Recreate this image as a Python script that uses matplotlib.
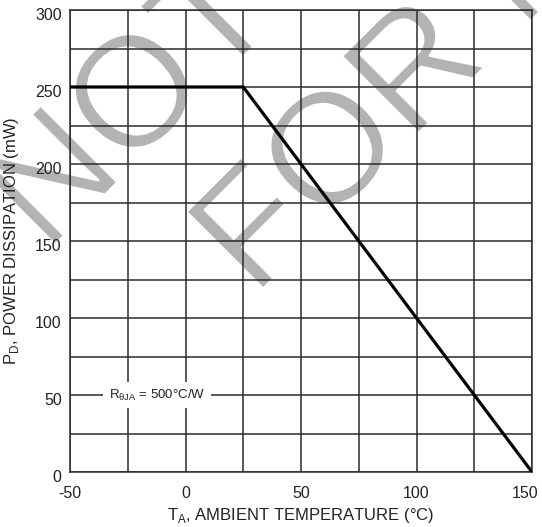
import matplotlib
matplotlib.use("Agg")
import matplotlib.pyplot as plt
import matplotlib.patheffects as pe
from matplotlib.transforms import ScaledTranslation

plt.rcParams["font.family"] = ["Liberation Sans", "DejaVu Sans"]
plt.rcParams["mathtext.fontset"] = "custom"
plt.rcParams["mathtext.rm"] = "Liberation Sans"
plt.rcParams["axes.unicode_minus"] = False

# derating curve
temp_pts = [-50, 25, 150]
power_pts = [250, 250, 0]

x_ticks = [-50, 0, 50, 100, 150]
y_ticks = [0, 50, 100, 150, 200, 250, 300]
x_grid = [-50, -25, 0, 25, 50, 75, 100, 125, 150]
y_grid = [0, 25, 50, 75, 100, 125, 150, 175, 200, 225, 250, 275, 300]

fig = plt.figure(figsize=(5.42, 5.27), dpi=100)
ax = fig.add_axes([70 / 542, 55 / 527, 462 / 542, 462 / 527])
ax.set_zorder(1)
ax.set_facecolor("none")

# watermark behind the grid, slightly thinned with a white outline
thin = [pe.Normal(), pe.Stroke(linewidth=2, foreground="white")]
wm = dict(color="#b3b3b3", fontsize=114, rotation=45, rotation_mode="anchor",
          ha="left", va="baseline", zorder=-5, path_effects=thin)
fig.text(46 / 542, 1 - 254 / 527, "NOT", **wm)
fig.text(254 / 542, 1 - 298 / 527, "FOR NEW DESIGN", **wm)

ax.plot(temp_pts, power_pts, color="black", lw=2.3, zorder=3, solid_capstyle="butt")

ax.set_xlim(-50, 150)
ax.set_ylim(0, 300)
ax.set_xticks(x_ticks)
ax.set_yticks(y_ticks)
ax.set_xticks(x_grid, minor=True)
ax.set_yticks(y_grid, minor=True)
ax.grid(which="both", color="#2b2b2b", lw=1.1, zorder=1)
ax.tick_params(which="both", length=0, labelsize=11.5, colors="#222222")
ax.tick_params(axis="x", pad=10)
ax.tick_params(axis="y", pad=6)
for s in ax.spines.values():
    s.set_color("#2b2b2b")
    s.set_linewidth(1.1)

# label nudges to follow the original layout
last = ax.get_xticklabels()[-1]
last.set_transform(last.get_transform() + ScaledTranslation(-7 / 100, 0, fig.dpi_scale_trans))
for lab in ax.get_yticklabels():
    lab.set_transform(lab.get_transform() + ScaledTranslation(0, -4 / 100, fig.dpi_scale_trans))

ax.text(-12.3, 50, r"R$_{\mathregular{θJA}}$ = 500°C/W", fontsize=9.5, color="#222222",
        ha="center", va="center", zorder=4,
        bbox=dict(facecolor="white", edgecolor="none", pad=4))

ax.set_xlabel(r"T$_{\mathregular{A}}$, AMBIENT TEMPERATURE (°C)", fontsize=12,
              color="#222222", labelpad=4)
ax.set_ylabel(r"P$_{\mathregular{D}}$, POWER DISSIPATION (mW)", fontsize=12,
              color="#222222", labelpad=10)

fig.savefig("out.png", dpi=100)
